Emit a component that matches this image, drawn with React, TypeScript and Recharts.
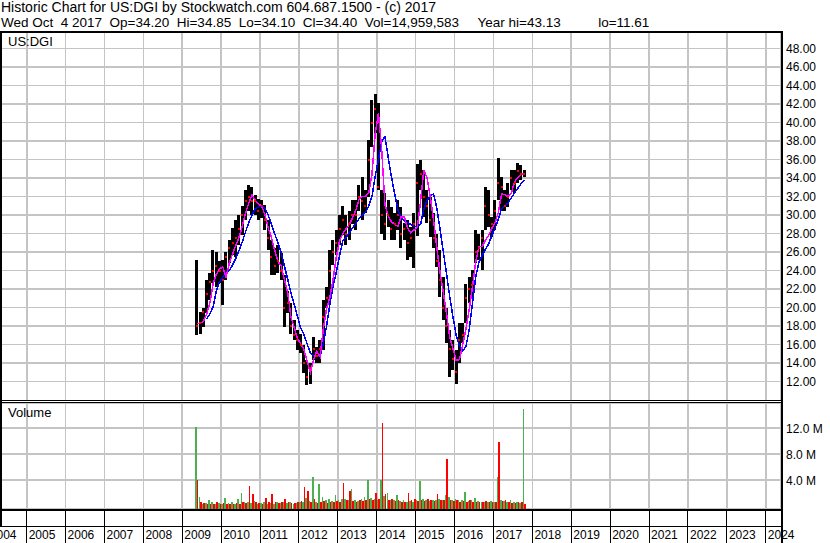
import React from 'react';
import { Bar, CartesianGrid, ComposedChart, Line, Scatter, XAxis, YAxis } from 'recharts';

const FONT = "Arial, 'Liberation Sans', sans-serif";

const HEADER_1 = 'Historic Chart for US:DGI by Stockwatch.com 604.687.1500 - (c) 2017';
const HEADER_2 =
  'Wed Oct  4 2017  Op=34.20  Hi=34.85  Lo=34.10  Cl=34.40  Vol=14,959,583     Year hi=43.13          lo=11.61';

const MONTHS = [
  '2009-05', '2009-06', '2009-07', '2009-08', '2009-09', '2009-10', '2009-11', '2009-12',
  '2010-01', '2010-02', '2010-03', '2010-04', '2010-05', '2010-06', '2010-07', '2010-08', '2010-09', '2010-10', '2010-11', '2010-12',
  '2011-01', '2011-02', '2011-03', '2011-04', '2011-05', '2011-06', '2011-07', '2011-08', '2011-09', '2011-10', '2011-11', '2011-12',
  '2012-01', '2012-02', '2012-03', '2012-04', '2012-05', '2012-06', '2012-07', '2012-08', '2012-09', '2012-10', '2012-11', '2012-12',
  '2013-01', '2013-02', '2013-03', '2013-04', '2013-05', '2013-06', '2013-07', '2013-08', '2013-09', '2013-10', '2013-11', '2013-12',
  '2014-01', '2014-02', '2014-03', '2014-04', '2014-05', '2014-06', '2014-07', '2014-08', '2014-09', '2014-10', '2014-11', '2014-12',
  '2015-01', '2015-02', '2015-03', '2015-04', '2015-05', '2015-06', '2015-07', '2015-08', '2015-09', '2015-10', '2015-11', '2015-12',
  '2016-01', '2016-02', '2016-03', '2016-04', '2016-05', '2016-06', '2016-07', '2016-08', '2016-09', '2016-10', '2016-11', '2016-12',
  '2017-01', '2017-02', '2017-03', '2017-04', '2017-05', '2017-06', '2017-07', '2017-08', '2017-09', '2017-10',
];

const HIGH = [
  25.1, 19.5, 20.0, 23.0, 23.7, 26.2, 26.0, 25.0,
  25.2, 26.0, 27.3, 28.6, 29.5, 30.0, 31.0, 32.7, 33.3, 33.0, 32.2, 31.8,
  31.6, 31.1, 29.5, 27.3, 26.5, 26.8, 25.9, 23.5, 21.8, 20.5, 18.7, 17.6,
  17.2, 16.0, 14.3, 14.0, 16.8, 15.7, 16.5, 20.8, 22.2, 26.2, 27.3, 28.4,
  30.0, 31.0, 30.0, 30.5, 31.6, 31.6, 33.3, 34.1, 32.7, 38.1, 42.5, 43.13,
  42.1, 32.7, 32.4, 31.6, 30.9, 30.2, 31.6, 30.9, 29.1, 29.5, 28.7, 30.2,
  35.5, 36.0, 34.9, 32.7, 32.0, 30.2, 28.0, 26.2, 23.3, 20.0, 17.6, 16.5,
  15.4, 18.3, 18.3, 22.6, 23.3, 24.1, 28.4, 28.0, 28.4, 33.0, 32.7, 29.8,
  31.6, 36.2, 34.1, 32.7, 33.5, 34.9, 34.9, 35.6, 35.4, 34.85,
];

const LOW = [
  17.0, 17.2, 17.9, 19.4, 20.8, 22.7, 22.2, 22.7,
  20.3, 23.0, 24.8, 25.7, 25.5, 26.8, 27.9, 29.5, 30.5, 30.0, 30.0, 29.5,
  29.7, 28.4, 26.2, 23.5, 23.5, 23.8, 23.0, 17.9, 19.4, 17.2, 16.5, 15.4,
  15.1, 12.9, 11.61, 11.8, 14.3, 14.0, 14.0, 15.4, 20.0, 20.5, 24.6, 25.7,
  26.8, 27.9, 26.8, 27.3, 29.0, 28.4, 30.5, 29.5, 30.2, 32.0, 37.4, 38.9,
  32.7, 28.0, 27.3, 28.7, 27.3, 27.3, 28.4, 26.5, 27.3, 25.1, 25.5, 24.3,
  27.8, 32.7, 29.8, 29.1, 27.6, 26.5, 24.4, 21.1, 18.7, 16.2, 12.5, 13.3,
  11.8, 14.0, 16.2, 18.3, 20.5, 21.1, 24.8, 25.1, 24.1, 28.4, 28.7, 27.6,
  28.4, 31.6, 30.5, 30.5, 30.9, 32.7, 32.4, 33.5, 33.8, 34.1,
];

const CLOSE = [
  18.0, 18.3, 19.5, 21.5, 22.8, 24.0, 24.5, 24.0,
  23.0, 25.5, 26.5, 27.0, 27.5, 28.5, 30.0, 31.5, 32.0, 31.5, 31.5, 30.5,
  31.0, 29.5, 27.5, 25.5, 24.5, 25.0, 24.0, 20.0, 20.5, 18.0, 17.0, 16.5,
  16.0, 14.0, 12.5, 13.5, 15.5, 14.8, 15.5, 19.0, 21.0, 24.0, 26.0, 27.0,
  28.5, 29.5, 28.0, 29.0, 30.0, 30.0, 32.0, 31.5, 31.0, 36.0, 40.0, 41.5,
  33.0, 30.0, 29.0, 30.0, 28.5, 29.0, 30.0, 28.0, 28.5, 27.0, 27.5, 29.0,
  33.5, 34.5, 32.0, 31.0, 29.5, 27.5, 25.0, 23.0, 20.0, 18.0, 15.5, 14.5,
  13.0, 16.5, 17.0, 21.0, 22.0, 22.5, 26.0, 26.5, 27.5, 31.0, 30.0, 29.0,
  30.5, 33.5, 33.0, 31.0, 32.0, 34.0, 33.5, 34.8, 34.4, 34.4,
];

// magenta (short) average
const MA_FAST = [
  18.3, 18.3, 18.5, 19.3, 20.5, 22.6, 23.6, 24.2,
  24.4, 23.3, 24.8, 25.8, 26.7, 27.6, 28.8, 30.2, 31.3, 32.2, 31.6, 31.2,
  31.0, 30.0, 28.6, 27.6, 26.2, 25.0, 24.5, 23.0, 21.7, 19.0, 17.9, 16.7,
  16.1, 15.5, 14.2, 13.0, 14.4, 15.3, 14.7, 17.7, 19.9, 21.1, 23.0, 25.5,
  27.2, 28.0, 28.5, 29.0, 29.7, 30.5, 31.7, 32.0, 32.0, 32.4, 34.4, 38.8,
  41.0, 37.2, 31.2, 29.9, 29.3, 29.0, 28.8, 29.8, 29.8, 28.6, 28.1, 28.4,
  28.7, 31.5, 34.9, 34.0, 32.0, 29.5, 26.6, 23.8, 21.7, 19.4, 16.8, 15.6,
  14.3, 14.4, 16.0, 17.7, 19.8, 22.2, 24.9, 26.6, 26.6, 27.3, 27.8, 28.6,
  29.2, 30.3, 32.3, 32.2, 32.0, 32.4, 33.6, 34.1, 34.4, 34.5,
];

// blue (long) average
const MA_SLOW = [
  null, null, null, 18.8, 19.3, 20.1, 21.8, 22.8,
  23.3, 23.8, 24.0, 24.6, 25.3, 26.2, 27.1, 28.2, 29.2, 30.0, 30.7, 30.9,
  31.0, 30.7, 30.0, 29.0, 28.0, 27.0, 26.0, 24.5, 23.1, 21.6, 20.4, 19.1,
  17.8, 17.1, 16.1, 15.1, 14.8, 14.7, 14.7, 16.1, 18.0, 20.3, 22.3, 23.8,
  25.6, 27.2, 27.6, 28.1, 28.6, 29.1, 29.6, 30.0, 30.3, 31.0, 32.0, 34.2,
  36.0, 37.9, 38.5, 36.3, 34.2, 32.3, 30.6, 29.7, 29.4, 29.2, 29.0, 28.8,
  28.7, 29.0, 30.6, 31.6, 32.1, 32.3, 30.8, 28.5, 26.1, 23.7, 21.2, 19.0,
  17.0, 15.9, 15.3, 15.8, 17.6, 20.4, 23.3, 24.9, 25.6, 26.3, 26.9, 27.8,
  28.6, 29.6, 30.7, 31.0, 31.3, 31.9, 32.4, 32.9, 33.4, 33.8,
];

// volume in millions, up days (green) and down days (red)
const VOL_UP = [
  12.2, 1.4, 0.4, 0.5, 1.0, 0.6, 0.4, 0.5,
  0.4, 1.3, 0.5, 0.6, 0.4, 1.1, 2.0, 0.7, 0.6, 0.5, 0.8, 0.4,
  0.5, 0.6, 0.4, 0.5, 0.4, 0.6, 0.5, 0.7, 0.5, 0.6, 0.4, 0.5,
  0.6, 0.7, 1.3, 0.8, 4.5, 0.7, 3.4, 1.5, 0.9, 1.2, 0.8, 1.7,
  1.0, 1.2, 1.2, 1.0, 2.7, 1.0, 0.8, 1.2, 1.5, 4.0, 1.3, 1.2,
  1.0, 4.0, 1.6, 2.0, 0.9, 1.0, 1.7, 0.8, 0.9, 0.7, 0.8, 0.7,
  1.0, 3.9, 1.2, 0.9, 0.8, 1.0, 0.9, 1.2, 1.0, 1.7, 1.4, 1.0,
  1.1, 0.9, 1.0, 2.2, 0.8, 0.9, 1.3, 0.8, 0.6, 0.7, 0.6, 0.8,
  0.7, 4.5, 1.0, 0.8, 0.7, 1.0, 0.6, 0.6, 0.5, 15.0,
];

const VOL_DOWN = [
  4.0, 0.6, 0.5, 0.3, 0.4, 0.4, 0.6, 0.3,
  0.5, 0.4, 0.3, 0.4, 0.5, 0.4, 0.6, 0.5, 3.1, 1.9, 0.6, 0.5,
  0.4, 1.3, 0.6, 1.9, 0.6, 0.5, 0.7, 1.1, 0.6, 0.5, 0.5, 0.6,
  0.8, 2.9, 2.3, 0.7, 1.1, 0.5, 0.6, 0.8, 0.5, 0.7, 0.6, 0.8,
  0.7, 3.6, 1.0, 2.4, 0.8, 0.7, 0.9, 0.8, 1.0, 1.1, 0.9, 2.0,
  1.2, 12.8, 1.9, 0.9, 1.2, 0.8, 0.9, 0.7, 0.7, 2.0, 1.0, 1.2,
  0.8, 1.0, 0.8, 1.1, 0.9, 0.8, 1.9, 1.0, 0.9, 7.3, 0.9, 0.8,
  1.0, 0.7, 0.8, 0.7, 0.9, 0.6, 0.7, 0.6, 0.7, 0.8, 0.7, 0.6,
  0.6, 9.9, 0.8, 0.9, 0.6, 0.5, 0.5, 0.7, 0.7, 0.4,
];

const YEAR_TICKS = [
  2004, 2005, 2006, 2007, 2008, 2009, 2010, 2011, 2012, 2013, 2014,
  2015, 2016, 2017, 2018, 2019, 2020, 2021, 2022, 2023, 2024,
];
const PRICE_TICKS = [12, 14, 16, 18, 20, 22, 24, 26, 28, 30, 32, 34, 36, 38, 40, 42, 44, 46, 48];
const VOLUME_TICKS = [4, 8, 12];

// axis ranges
const X_DOMAIN = [2004.3136, 2024.391];
const PRICE_DOMAIN = [9.91, 49.91];
const VOL_MIN = -0.415;
const VOL_MAX = 15.89;

const toYear = (m: string) => {
  const [y, mo] = m.split('-').map(Number);
  return y + (mo - 0.5) / 12;
};

const rows = MONTHS.map((m, i) => ({
  t: toYear(m),
  range: [LOW[i], HIGH[i]],
  close: CLOSE[i],
  fast: MA_FAST[i],
  slow: MA_SLOW[i],
  up: [VOL_MIN, VOL_UP[i]],
  down: [VOL_MIN, VOL_DOWN[i]],
}));

const GRID = '#c4c4c4';
const axisTick = { fontSize: 12, fill: '#000', fontFamily: FONT };

function CloseTick(p: any) {
  return <rect x={p.cx - 1} y={p.cy - 1} width={2} height={2} fill="#ff0000" />;
}

function YearTick(props: any) {
  const { x, y, payload } = props;
  return (
    <g>
      <line x1={x} x2={x} y1={y} y2={y + 34} stroke="#000" strokeWidth={1} />
      <text x={x + 2} y={y + 30} fontSize={12} fontFamily={FONT} fill="#000">
        {payload.value}
      </text>
    </g>
  );
}

function Rule({ l, t, w, h }: { l: number; t: number; w: number; h: number }) {
  return <div style={{ position: 'absolute', left: l, top: t, width: w, height: h, background: '#000' }} />;
}

export default function App() {
  return (
    <div
      style={{
        position: 'absolute',
        left: 0,
        top: 0,
        width: 830,
        height: 543,
        background: '#fff',
        overflow: 'hidden',
        fontFamily: FONT,
        color: '#000',
        shapeRendering: 'crispEdges',
      }}
    >
      <div style={{ position: 'absolute', left: 1, top: 0, fontSize: 14, lineHeight: '15px', whiteSpace: 'pre' }}>
        {HEADER_1}
      </div>
      <div style={{ position: 'absolute', left: 1, top: 16, fontSize: 13.5, lineHeight: '14px', whiteSpace: 'pre' }}>
        {HEADER_2}
      </div>

      <div style={{ position: 'absolute', left: 0, top: 31 }}>
        <ComposedChart width={830} height={370} data={rows} margin={{ top: 0, right: 0, bottom: 0, left: 0 }}>
          <CartesianGrid stroke={GRID} strokeWidth={1.6} />
          <XAxis dataKey="t" type="number" domain={X_DOMAIN} ticks={YEAR_TICKS} allowDataOverflow hide />
          <YAxis
            orientation="right"
            width={49}
            domain={PRICE_DOMAIN}
            ticks={PRICE_TICKS}
            allowDataOverflow
            interval={0}
            axisLine={false}
            tickLine={false}
            tickSize={0}
            tickMargin={5}
            tick={axisTick}
            tickFormatter={(v: number) => v.toFixed(2)}
          />
          <Bar dataKey="range" fill="#000" barSize={3} isAnimationActive={false} />
          <Scatter dataKey="close" shape={CloseTick} isAnimationActive={false} />
          <Line type="linear" dataKey="slow" stroke="#0000ff" strokeWidth={1.5} dot={false} isAnimationActive={false} />
          <Line type="linear" dataKey="fast" stroke="#ff00ff" strokeWidth={1.5} dot={false} isAnimationActive={false} />
        </ComposedChart>
      </div>

      <div style={{ position: 'absolute', left: 0, top: 403 }}>
        <ComposedChart
          width={830}
          height={140}
          data={rows}
          barGap={0}
          margin={{ top: 0, right: 0, bottom: 0, left: 0 }}
        >
          <CartesianGrid stroke={GRID} strokeWidth={1.6} />
          <XAxis
            dataKey="t"
            type="number"
            domain={X_DOMAIN}
            ticks={YEAR_TICKS}
            allowDataOverflow
            interval={0}
            height={34}
            axisLine={false}
            tickLine={false}
            tickSize={0}
            tickMargin={0}
            tick={<YearTick />}
          />
          <YAxis
            orientation="right"
            width={49}
            domain={[VOL_MIN, VOL_MAX]}
            ticks={VOLUME_TICKS}
            allowDataOverflow
            interval={0}
            axisLine={false}
            tickLine={false}
            tickSize={0}
            tickMargin={5}
            tick={axisTick}
            tickFormatter={(v: number) => `${v.toFixed(1)} M`}
          />
          <Bar dataKey="up" fill="#4caf50" barSize={1.6} isAnimationActive={false} />
          <Bar dataKey="down" fill="#ff0000" barSize={1.6} isAnimationActive={false} />
        </ComposedChart>
      </div>

      <div style={{ position: 'absolute', left: 8, top: 34, fontSize: 13, lineHeight: '15px' }}>US:DGI</div>
      <div style={{ position: 'absolute', left: 8, top: 405, fontSize: 13, lineHeight: '15px' }}>Volume</div>

      {/* frame */}
      <Rule l={0} t={31} w={783} h={2} />
      <Rule l={0} t={31} w={2} h={496} />
      <Rule l={781} t={31} w={2} h={512} />
      <Rule l={0} t={400} w={783} h={1} />
      <Rule l={0} t={402} w={783} h={1} />
      <Rule l={0} t={509} w={783} h={2} />
      <Rule l={0} t={526} w={783} h={1} />
    </div>
  );
}
